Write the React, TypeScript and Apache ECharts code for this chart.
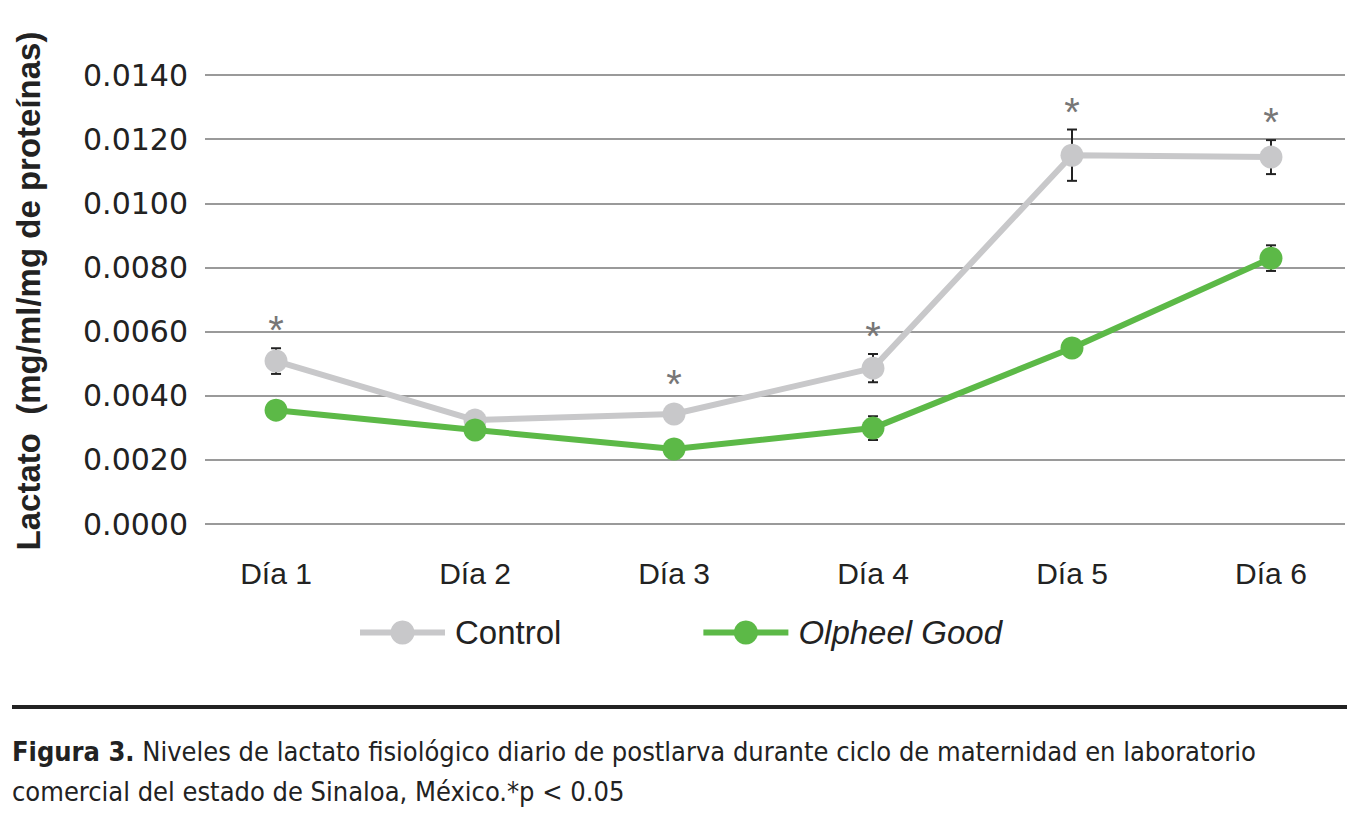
import React, { useEffect, useRef } from "react";
import * as echarts from "echarts";

const categories = ["Día 1", "Día 2", "Día 3", "Día 4", "Día 5", "Día 6"];
const controlValues = [0.00508, 0.00324, 0.00343, 0.00486, 0.0115, 0.01144];
const controlErrors = [0.0004, 0, 0, 0.00044, 0.0008, 0.00053];
const olpheelValues = [0.00355, 0.00293, 0.00234, 0.00299, 0.00549, 0.00829];
const olpheelErrors = [0, 0, 0, 0.00037, 0, 0.0004];
const significance = ["*", "", "*", "*", "*", "*"];
const yTicks = [0, 0.002, 0.004, 0.006, 0.008, 0.01, 0.012, 0.014];

const GRAY = "#c8c8ca";
const GREEN = "#5cb947";
const INK = "#222222";
const FONT = "'Liberation Sans', Arial, Helvetica, sans-serif";
const NARROW = "'Liberation Sans Narrow', 'DejaVu Sans Condensed', 'Liberation Sans', sans-serif";

export default function App() {
  const ref = useRef<HTMLDivElement>(null);
  useEffect(() => {
    document.body.style.margin = "0";
    const chart = echarts.init(ref.current!, null, { renderer: "svg" });

    const catIdx = categories.map((_, i) => i);
    const errData: any[] = [];
    controlValues.forEach((v, i) => errData.push([i, v, controlErrors[i]]));
    olpheelValues.forEach((v, i) => errData.push([i, v, olpheelErrors[i]]));
    const sigData = controlValues.map((v, i) => [i, v, controlErrors[i]]);
    const labelData = catIdx.map((i) => [i, yTicks[0]]);

    const option: any = {
      animation: false,
      backgroundColor: "#ffffff",
      grid: { left: 205, right: 14, top: 75, height: 449 },
      xAxis: {
        type: "value",
        min: -0.357,
        max: 5.372,
        show: false,
      },
      yAxis: {
        type: "value",
        min: yTicks[0],
        max: yTicks[yTicks.length - 1],
        interval: 0.002,
        axisLine: { show: false },
        axisTick: { show: false },
        axisLabel: {
          fontFamily: "'DejaVu Sans', sans-serif",
          fontSize: 30,
          color: INK,
          margin: 17,
          formatter: (v: number) => v.toFixed(4),
        },
        splitLine: { lineStyle: { color: "#9a9a9a", width: 2 } },
      },
      legend: {
        left: 352,
        top: 611,
        itemWidth: 85,
        itemHeight: 30,
        itemGap: 139,
        data: ["Control", "Olpheel Good"],
        lineStyle: { width: 6 },
        textStyle: {
          fontFamily: FONT,
          fontSize: 33,
          color: INK,
          padding: [0, 0, 0, 5],
          rich: { i: { fontFamily: FONT, fontSize: 33, color: INK, fontStyle: "italic" } },
        },
        formatter: (name: string) => (name === "Olpheel Good" ? `{i|${name}}` : name),
      },
      series: [
        {
          type: "custom",
          name: "xlabels",
          z: 1,
          silent: true,
          data: labelData,
          renderItem: (params: any, api: any) => {
            const p = api.coord([api.value(0), api.value(1)]);
            return {
              type: "text",
              x: p[0],
              y: p[1] + 49,
              style: {
                text: categories[params.dataIndex],
                font: `30px ${FONT}`,
                fill: INK,
                textAlign: "center",
                textVerticalAlign: "middle",
              },
            };
          },
        },
        {
          type: "custom",
          name: "err",
          z: 1,
          silent: true,
          data: errData,
          renderItem: (params: any, api: any) => {
            const i = api.value(0);
            const v = api.value(1);
            const e = api.value(2);
            if (!e) return { type: "group", children: [] };
            const top = api.coord([i, v + e]);
            const bot = api.coord([i, v - e]);
            const hw = 5;
            const st = { stroke: INK, lineWidth: 2 };
            return {
              type: "group",
              children: [
                { type: "line", shape: { x1: top[0], y1: top[1], x2: bot[0], y2: bot[1] }, style: st },
                { type: "line", shape: { x1: top[0] - hw, y1: top[1], x2: top[0] + hw, y2: top[1] }, style: st },
                { type: "line", shape: { x1: bot[0] - hw, y1: bot[1], x2: bot[0] + hw, y2: bot[1] }, style: st },
              ],
            };
          },
        },
        {
          type: "line",
          name: "Control",
          data: controlValues.map((v, i) => [catIdx[i], v]),
          symbol: "circle",
          symbolSize: 23,
          lineStyle: { color: GRAY, width: 6 },
          itemStyle: { color: GRAY },
          z: 3,
        },
        {
          type: "line",
          name: "Olpheel Good",
          data: olpheelValues.map((v, i) => [catIdx[i], v]),
          symbol: "circle",
          symbolSize: 23,
          lineStyle: { color: GREEN, width: 6 },
          itemStyle: { color: GREEN },
          z: 4,
        },
        {
          type: "custom",
          name: "sig",
          z: 5,
          silent: true,
          data: sigData,
          renderItem: (params: any, api: any) => {
            const i = api.value(0);
            const v = api.value(1);
            const e = api.value(2);
            const s = significance[params.dataIndex];
            if (!s) return { type: "group", children: [] };
            const p = api.coord([i, v + e]);
            const topY = e ? p[1] : p[1] - 12;
            return {
              type: "text",
              x: p[0],
              y: topY - 18,
              style: {
                text: s,
                fill: "#777777",
                font: `40px ${FONT}`,
                textAlign: "center",
                textVerticalAlign: "middle",
              },
            };
          },
        },
      ],
      graphic: [
        {
          type: "text",
          x: 28,
          y: 291,
          rotation: Math.PI / 2,
          style: {
            text: "Lactato  (mg/ml/mg de proteínas)",
            font: `bold 33px ${FONT}`,
            fill: INK,
            textAlign: "center",
            textVerticalAlign: "middle",
          },
        },
        {
          type: "line",
          shape: { x1: 12, y1: 707, x2: 1347, y2: 707 },
          style: { stroke: INK, lineWidth: 4 },
        },
        {
          type: "text",
          x: 12,
          y: 751,
          style: {
            text: "{b|Figura 3.} Niveles de lactato fisiológico diario de postlarva durante ciclo de maternidad en laboratorio",
            font: `27px ${NARROW}`,
            fill: INK,
            textVerticalAlign: "middle",
            rich: {
              b: { font: `bold 27px ${NARROW}`, fill: INK },
            },
          },
        },
        {
          type: "text",
          x: 12,
          y: 791,
          style: {
            text: "comercial del estado de Sinaloa, México.*p < 0.05",
            font: `27px ${NARROW}`,
            fill: INK,
            textVerticalAlign: "middle",
          },
        },
      ],
    };
    chart.setOption(option);
    return () => chart.dispose();
  }, []);
  return <div ref={ref} style={{ width: 1359, height: 834 }} />;
}
